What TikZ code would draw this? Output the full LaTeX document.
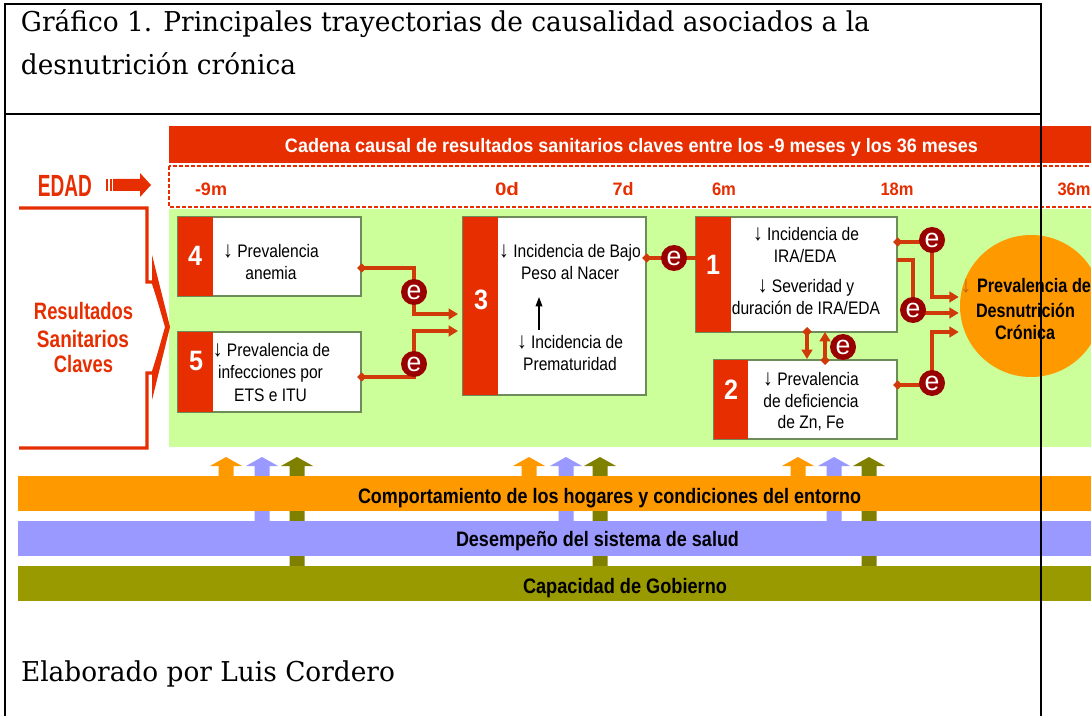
\documentclass[tikz,border=0pt]{standalone}
\usepackage{fontspec}
\usepackage{graphicx}
\usetikzlibrary{arrows.meta,calc,fit}
\newfontfamily\arial{Liberation Sans}
\newfontfamily\schoolbook{DejaVu Serif}
\definecolor{hred}{RGB}{230,46,0}
\definecolor{cred}{RGB}{208,58,10}
\definecolor{ecol}{RGB}{153,0,0}
\definecolor{lgreen}{RGB}{204,255,153}
\definecolor{orng}{RGB}{255,153,0}
\definecolor{lblue}{RGB}{153,153,255}
\definecolor{oliveA}{RGB}{153,153,0}
\definecolor{oliveB}{RGB}{128,128,0}
\definecolor{bxline}{RGB}{110,140,90}
\definecolor{arrbrown}{RGB}{190,100,20}
\newcommand\fw[2]{\resizebox{\dimexpr#1pt*3/4\relax}{\height}{#2}}
\newcommand\bt[1]{\scalebox{0.86}[1]{#1}}
\newcommand\da{{\fontsize{17}{16}\selectfont↓}}
\tikzset{
  lbl/.style={anchor=base, inner sep=0pt, outer sep=0pt},
  boxtxt/.style={lbl, font=\arial\fontsize{13.6}{16}\selectfont, text=black},
  numtxt/.style={inner sep=0pt, font=\arial\bfseries\fontsize{21}{24}\selectfont, text=white},
  tltxt/.style={lbl, font=\arial\bfseries\fontsize{13.5}{16}\selectfont, text=hred},
  redbold/.style={lbl, font=\arial\bfseries\fontsize{17.8}{20}\selectfont, text=hred},
  bartxt/.style={lbl, font=\arial\bfseries\fontsize{15.7}{18}\selectfont, text=black},
  circtxt/.style={lbl, font=\arial\bfseries\fontsize{14.6}{17}\selectfont, text=black},
  titletxt/.style={lbl, anchor=base west, font=\schoolbook\fontsize{20.5}{24}\selectfont, text=black},
  bx/.style={draw=bxline, line width=0.8pt, fill=white, inner sep=0pt, outer sep=0pt},
  ecirc/.style={circle, fill=ecol, minimum size=19.5pt, inner sep=0pt, text=white, font=\arial\fontsize{20}{20}\selectfont},
  conn/.style={draw=cred, line width=2.4pt},
  dstart/.style={{Diamond[length=7pt,width=7pt]}-},
  dboth/.style={{Diamond[length=7pt,width=7pt]}-{Triangle[length=7pt,width=8pt]}},
  tend/.style={-{Triangle[length=7pt,width=8pt]}},
}
\begin{document}
\begin{tikzpicture}[x=0.75pt,y=-0.75pt]
\clip (0,0) rectangle (1091,716);
\fill[white] (0,0) rectangle (1091,716);

% title
\node[titletxt] (title1) at (21,32) {\fw{849}{Gráfico 1. Principales trayectorias de causalidad asociados a la}};
\node[titletxt] (title2) at (21,75) {\fw{275}{desnutrición crónica}};
\node[titletxt] (elab) at (21,681) {\fw{374}{Elaborado por Luis Cordero}};

% header bar
\fill[hred] (169,126) rectangle (1091,163);
\node[lbl, text=white, font=\arial\bfseries\fontsize{14.6}{16}\selectfont] (hdr) at (631.5,153) {\fw{693}{Cadena causal de resultados sanitarios claves entre los -9 meses y los 36 meses}};

% timeline
\draw[hred, dash pattern=on 3pt off 1.5pt, line width=0.8pt] (169,166) rectangle (1095,207);
\node[tltxt] (tm9) at (211,196) {\fw{32}{-9m}};
\node[tltxt] (t0d) at (507,196) {\fw{24}{0d}};
\node[tltxt] (t7d) at (623,196) {\fw{21}{7d}};
\node[tltxt] (t6m) at (724,196) {\fw{24}{6m}};
\node[tltxt] (t18m) at (897,196) {\fw{33}{18m}};
\node[tltxt] (t36m) at (1074,196) {\fw{33}{36m}};

% green area
\fill[lgreen] (169,209) rectangle (1091,447);

% EDAD
\node[lbl, text=hred, font=\arial\bfseries\fontsize{23}{26}\selectfont] (edad) at (65,197) {\fw{54}{EDAD}};
\fill[hred] (106,179) rectangle (108,191);
\fill[hred] (109.5,179) rectangle (111.5,191);
\fill[hred] (113,179) -- (140,179) -- (140,173) -- (151,185) -- (140,197) -- (140,191) -- (113,191) -- cycle;

% bracket
\draw[hred, line width=2.3pt] (19,208) -- (147,208) -- (147,282) -- (153,282) -- (168,327) -- (153,373) -- (147,373) -- (147,448) -- (19,448);
\fill[hred] (152,255) -- (170,327) -- (152,400) -- (152,373) -- (165,327) -- (152,282) -- cycle;
\node[redbold] (res1) at (83.5,320) {\fw{99}{Resultados}};
\node[redbold] (res2) at (83,347) {\fw{92}{Sanitarios}};
\node[redbold] (res3) at (83.5,372) {\fw{59}{Claves}};

% boxes
\node[bx, fit={(178,217) (361,296)}] (b4) {};
\node[bx, fit={(178,332) (361,412)}] (b5) {};
\node[bx, fit={(463,217) (646,395)}] (b3) {};
\node[bx, fit={(696,217) (897,332)}] (b1) {};
\node[bx, fit={(714,360) (897,439)}] (b2) {};
\fill[hred] (178,217) rectangle (213,296);
\fill[hred] (178,332) rectangle (213,412);
\fill[hred] (463,217) rectangle (498,395);
\fill[hred] (696,217) rectangle (731,332);
\fill[hred] (714,360) rectangle (748,439);
\node[numtxt] (n4) at (195,256) {\fw{14}{4}};
\node[numtxt] (n5) at (196,361) {\fw{14}{5}};
\node[numtxt] (n3) at (481,300) {\fw{14}{3}};
\node[numtxt] (n1) at (713,265) {\fw{14}{1}};
\node[numtxt] (n2) at (731,390) {\fw{14}{2}};

\node[boxtxt] (t4a) at (271,258) {\bt{\da\ Prevalencia}};
\node[boxtxt] (t4b) at (271,280) {\bt{anemia}};
\node[boxtxt] (t5a) at (271.5,356) {\bt{\da\ Prevalencia de}};
\node[boxtxt] (t5b) at (270.5,378) {\bt{infecciones por}};
\node[boxtxt] (t5c) at (270.5,401) {\bt{ETS e ITU}};
\node[boxtxt] (t3a) at (570,258) {\bt{\da\ Incidencia de Bajo}};
\node[boxtxt] (t3b) at (570,280) {\bt{Peso al Nacer}};
\node[boxtxt] (t3c) at (570,348) {\bt{\da\ Incidencia de}};
\node[boxtxt] (t3d) at (570,370) {\bt{Prematuridad}};
\node[boxtxt] (t1a) at (806,241) {\bt{\da\ Incidencia de}};
\node[boxtxt] (t1b) at (805,263) {\bt{IRA/EDA}};
\node[boxtxt] (t1c) at (806,293) {\bt{\da\ Severidad y}};
\node[boxtxt] (t1d) at (806,315) {\bt{duración de IRA/EDA}};
\node[boxtxt] (t2a) at (811,385) {\bt{\da\ Prevalencia}};
\node[boxtxt] (t2b) at (811,407) {\bt{de deficiencia}};
\node[boxtxt] (t2c) at (811,428) {\bt{de Zn, Fe}};
\coordinate (ua) at (539,330);
\coordinate (ub) at (539,297);
\draw[line width=1pt, -{Triangle[length=7pt,width=5pt]}] (ua) -- (ub);

% outcome circle
\node[circle, fill=orng, minimum size=106.5pt, inner sep=0pt] (desn) at (1031,306) {};
\node[lbl, text=arrbrown, font=\arial\fontsize{17}{17}\selectfont] (darr) at (966,293) {↓};
\node[circtxt] (c1) at (1034,293) {\fw{114}{Prevalencia de}};
\node[circtxt] (c2) at (1025.5,317) {\fw{99}{Desnutrición}};
\node[circtxt] (c3) at (1025,339) {\fw{60}{Crónica}};

% e nodes positions
\coordinate (pe1) at (414,292);
\coordinate (pe2) at (414,364);
\coordinate (pe3) at (674,258);
\coordinate (pe4) at (932,240);
\coordinate (pe5) at (913,310);
\coordinate (pe6) at (843,347);
\coordinate (pe7) at (932,383);

% connectors
\draw[conn, dboth] ($(b4.north east)+(-4,51)$) -| (pe1) |- ($(b3.north west)+(-5,97)$);
\draw[conn, dboth] ($(b5.north east)+(-4,45)$) -| (pe2) |- ($(b3.north west)+(-5,114)$);
\draw[conn, dstart] ($(b3.north east)+(-4,41)$) -- (pe3) -- ($(b1.north west)+(0,41)$);
\draw[conn, dboth] ($(b1.north east)+(-4,25)$) -| (pe4) |- ($(desn.west)+(-1,-9)$);
\draw[conn, tend] ($(b1.north east)+(0,43)$) -| (pe5) |- ($(desn.west)+(-1,7)$);
\draw[conn, dboth] ($(b2.north east)+(-4,25)$) -| (pe7) |- ($(desn.west)+(-1,26)$);
\draw[conn, dboth] ($(b1.south west)+(111,-5)$) -- ($(b2.north west)+(93,-1)$);
\draw[conn, dboth] ($(b2.north west)+(111,5)$) -- ($(b1.south west)+(129,0)$);

\node[ecirc] (e1) at (pe1) {e};
\node[ecirc] (e2) at (pe2) {e};
\node[ecirc] (e3) at (pe3) {e};
\node[ecirc] (e4) at (pe4) {e};
\node[ecirc] (e5) at (pe5) {e};
\node[ecirc] (e6) at (pe6) {e};
\node[ecirc] (e7) at (pe7) {e};

% bottom arrows
\foreach \cx/\col/\bot in {226/orng/477, 262/lblue/522, 297/oliveB/567,
                           529/orng/477, 566/lblue/522, 600/oliveB/567,
                           798/orng/477, 834/lblue/522, 869/oliveB/567}{
  \fill[\col] ({\cx-7.5},\bot) -- ({\cx-7.5},466) -- ({\cx-16},466) -- (\cx,457) -- ({\cx+16},466) -- ({\cx+7.5},466) -- ({\cx+7.5},\bot) -- cycle;
}

% bottom bars
\fill[oliveA] (18,566) rectangle (1091,601);
\fill[lblue] (18,521) rectangle (1091,556);
\fill[orng] (18,476) rectangle (1091,511);
\node[bartxt] (bar1) at (609.5,503) {\fw{503}{Comportamiento de los hogares y condiciones del entorno}};
\node[bartxt] (bar2) at (597.5,546) {\fw{283}{Desempeño del sistema de salud}};
\node[bartxt] (bar3) at (625,593) {\fw{204}{Capacidad de Gobierno}};

% table borders
\draw[line width=2pt] (5,716) -- (5,4) -- (1041,4) -- (1041,716);
\draw[line width=2pt] (5,114) -- (1041,114);
\end{tikzpicture}
\end{document}
